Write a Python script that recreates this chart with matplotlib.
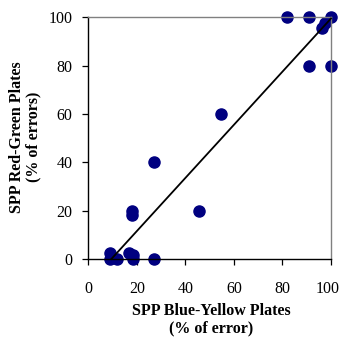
import matplotlib
matplotlib.use("Agg")
import matplotlib.pyplot as plt
from matplotlib.transforms import ScaledTranslation

# Data
blue_yellow = [81.7, 90.8, 100, 97.5, 96.5, 90.8, 100, 54.5, 27.2, 18.1, 17.9, 45.6,
               9.0, 9.0, 11.7, 16.9, 18.5, 18.3, 27.2]
red_green = [100, 100, 100, 97.5, 95.5, 80, 80, 60, 40, 20, 18, 20,
             2.5, 0, 0, 2.5, 1.5, 0, 0]
fit_x = [9.5, 100]
fit_y = [0, 99.5]
ticks = [0, 20, 40, 60, 80, 100]
xlabel = "SPP Blue-Yellow Plates\n(% of error)"
ylabel = "SPP Red-Green Plates\n(% of errors)"

plt.rcParams['font.family'] = ['Liberation Serif', 'DejaVu Serif']

fig = plt.figure(figsize=(3.40, 3.39), dpi=100)
ax = fig.add_axes([0.2597, 0.2360, 0.7138, 0.7130])

ax.plot(blue_yellow, red_green, linestyle='none', marker='o', markersize=8,
        color='#000080', markeredgecolor='#000080', clip_on=False, zorder=2)
ax.plot(fit_x, fit_y, color='black', linewidth=1.3, clip_on=False, zorder=3)

ax.set_xlim(0, 100)
ax.set_ylim(0, 100)
ax.set_xticks(ticks)
ax.set_yticks(ticks)
ax.set_xticklabels([str(t) for t in ticks])
ax.set_yticklabels([str(t) for t in ticks])

ax.tick_params(axis='both', direction='out', length=4.3, width=0.9, colors='black',
               labelsize=11.5)
ax.tick_params(axis='x', pad=11.5)
ax.tick_params(axis='y', pad=7.2)

for side in ['left', 'bottom']:
    ax.spines[side].set_color('black')
    ax.spines[side].set_linewidth(1.0)
for side in ['top', 'right']:
    ax.spines[side].set_color('#808080')
    ax.spines[side].set_linewidth(1.0)

# nudge the last x tick label slightly left so it stays inside the figure
last = ax.get_xticklabels()[-1]
last.set_transform(last.get_transform() + ScaledTranslation(-3 / 100, 0, fig.dpi_scale_trans))

fig.text(211 / 340, 1 - 320 / 339, xlabel, ha='center', va='center',
         fontsize=11.5, fontweight='bold', multialignment='center', linespacing=1.1)
fig.text(25 / 340, 1 - 137 / 339, ylabel, ha='center', va='center', rotation=90,
         fontsize=11.5, fontweight='bold', multialignment='center', linespacing=1.0)

fig.savefig('out.png', dpi=100)
